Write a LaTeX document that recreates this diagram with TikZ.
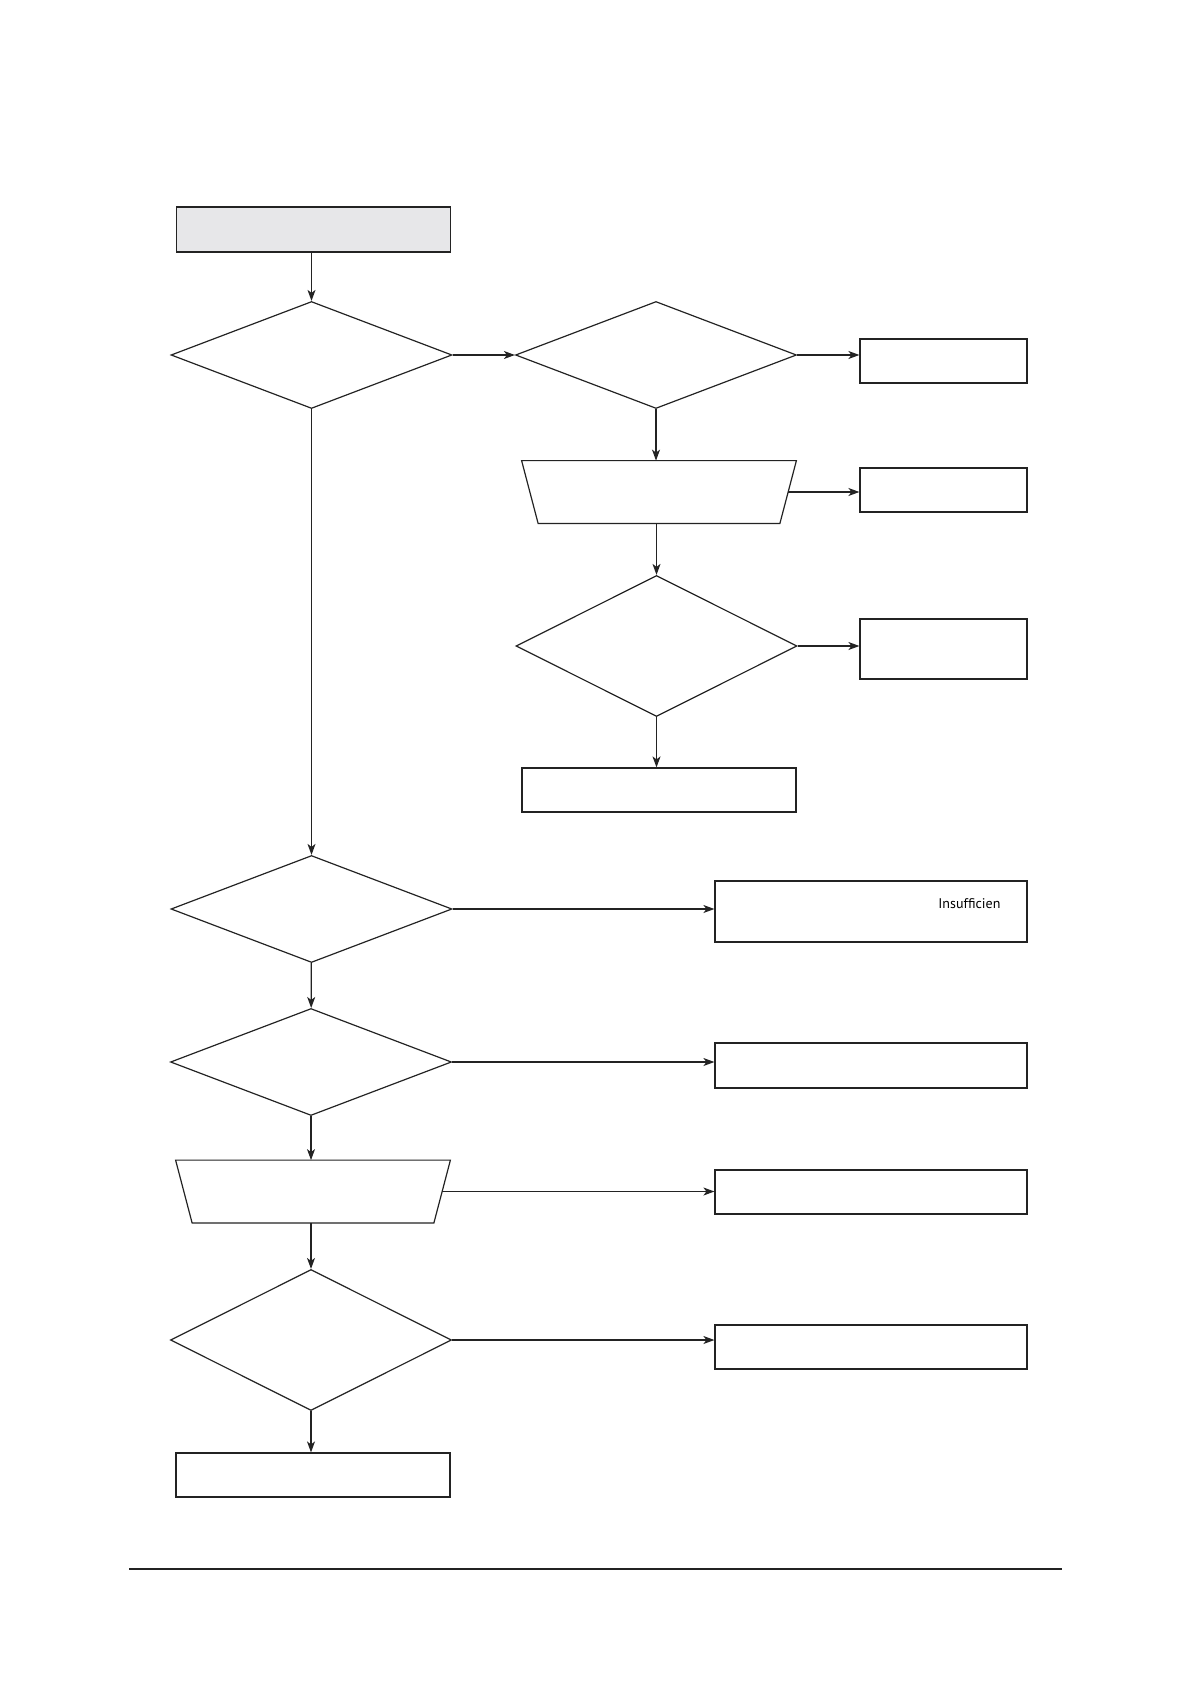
\documentclass[tikz,border=0pt]{standalone}
\usepackage{fontspec}
\setmainfont{PT Sans}
\usepackage{xcolor}
\usepackage{tikz}
\usetikzlibrary{shapes.geometric, arrows.meta, positioning}
\definecolor{startgray}{RGB}{231, 231, 233}
\definecolor{linegray}{RGB}{35, 35, 35}

\begin{document}
\begin{tikzpicture}[
    x=0.5pt, y=-0.5pt,
    procbox/.style={rectangle, draw=linegray, line width=0.6pt, inner sep=0pt, minimum width=137pt, minimum height=22pt},
    sidebox/.style={rectangle, draw=linegray, line width=0.6pt, inner sep=0pt, minimum width=83.5pt, minimum height=22pt},
    widebox/.style={rectangle, draw=linegray, line width=0.6pt, inner sep=0pt, minimum width=156pt, minimum height=22pt},
    decision/.style={diamond, draw=linegray, line width=0.6pt, inner sep=0pt, minimum width=140.5pt, minimum height=53.5pt},
    iobox/.style={rectangle, inner sep=0pt, minimum width=137pt, minimum height=31pt},
    ioline/.style={draw=linegray, line width=0.6pt},
    arrow/.style={-{Stealth[length=5.5pt, width=4pt, inset=1.5pt]}, line width=0.6pt, draw=linegray}
]
    \useasboundingbox (0,0) rectangle (1190,1684);

    % Left column
    \node[procbox, fill=startgray, minimum height=22.5pt] (start) at (313.5, 229.5) {};
    \node[decision] (dec1) at (311.5, 355) {};
    \node[decision] (dec4) at (311.5, 909) {};
    \node[decision] (dec5) at (311, 1062) {};
    \node[iobox] (io2) at (313, 1191.5) {};
    \node[decision, minimum height=70.5pt] (dec6) at (311, 1340) {};
    \node[procbox] (end2) at (313, 1475) {};

    % Middle column
    \node[decision] (dec2) at (656, 355) {};
    \node[iobox] (io1) at (659, 492) {};
    \node[decision, minimum height=70.5pt] (dec3) at (656.5, 646) {};
    \node[procbox] (end1) at (659, 790) {};

    % Trapezoid outlines
    \draw[ioline] (io1.north west) -- (io1.north east) -- ([xshift=-8.25pt]io1.south east) -- ([xshift=8.25pt]io1.south west) -- cycle;
    \draw[ioline] (io2.north west) -- (io2.north east) -- ([xshift=-8.25pt]io2.south east) -- ([xshift=8.25pt]io2.south west) -- cycle;

    % Right column
    \node[sidebox] (res1) at (943.5, 361) {};
    \node[sidebox] (res2) at (943.5, 490) {};
    \node[sidebox, minimum height=30pt] (res3) at (943.5, 649) {};
    \node[widebox, minimum height=30.5pt] (res4) at (871, 911.5) {};
    \node[anchor=base west, inner sep=0pt, font=\fontsize{7}{8}\selectfont] (res4txt) at (938, 908) {Insufficien};
    \node[widebox, minimum height=22.5pt] (res5) at (871, 1065.5) {};
    \node[widebox] (res6) at (871, 1192) {};
    \node[widebox] (res7) at (871, 1347) {};

    \draw[arrow] (start.south -| dec1.north) -- (dec1.north);
    \draw[arrow] (dec1.east) -- (dec2.west);
    \draw[arrow] (dec2.east) -- (dec2.east -| res1.west);
    \draw[arrow] (dec2.south) -- (dec2.south |- io1.north);
    \draw[arrow] ([xshift=-4.1pt]io1.east) -- (io1.east -| res2.west);
    \draw[arrow] (io1.south -| dec3.north) -- (dec3.north);
    \draw[arrow] (dec3.east) -- (dec3.east -| res3.west);
    \draw[arrow] (dec3.south) -- (dec3.south |- end1.north);

    \draw[arrow] (dec1) -- (dec4);
    \draw[arrow] (dec4.east) -- (dec4.east -| res4.west);
    \draw[arrow] (dec4) -- (dec5);
    \draw[arrow] (dec5.east) -- (dec5.east -| res5.west);
    \draw[arrow] (dec5.south) -- (dec5.south |- io2.north);
    \draw[arrow] ([xshift=-4.1pt]io2.east) -- (io2.east -| res6.west);
    \draw[arrow] (io2.south -| dec6.north) -- (dec6.north);
    \draw[arrow] (dec6.east) -- (dec6.east -| res7.west);
    \draw[arrow] (dec6.south) -- (dec6.south |- end2.north);

    % Footer rule
    \coordinate (ruleL) at (129, 1569);
    \coordinate (ruleR) at (1062, 1569);
    \draw[line width=1pt, linegray] (ruleL) -- (ruleR);
\end{tikzpicture}
\end{document}
